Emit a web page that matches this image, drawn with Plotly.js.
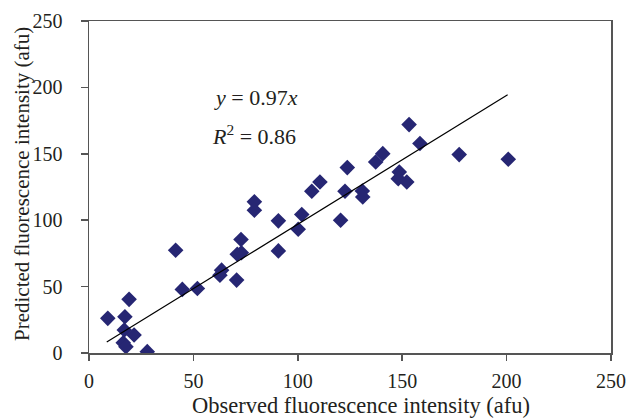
<!DOCTYPE html>
<html>
<head>
<meta charset="utf-8">
<script src="https://cdn.plot.ly/plotly-3.0.1.min.js"></script>
<style>html,body{margin:0;padding:0;background:#fff;}#chart{width:626px;height:419px;}</style>
</head>
<body>
<div id="chart"></div>
<script>
const observed = [9.0, 17.2, 19.2, 16.9, 21.6, 16.4, 17.7, 27.9, 41.5, 44.7, 51.9, 62.7, 63.5, 70.7, 71.0, 73.0, 72.8, 79.2, 79.2, 90.7, 90.7, 100.2, 101.9, 106.7, 110.6, 120.5, 122.6, 123.7, 130.9, 131.1, 137.3, 140.7, 148.6, 148.1, 152.2, 153.3, 158.5, 177.3, 200.8];
const predicted = [26.1, 27.3, 40.4, 17.3, 13.5, 7.7, 4.7, 1.0, 77.4, 47.9, 48.6, 58.6, 62.4, 54.9, 74.4, 75.5, 85.5, 113.8, 107.5, 99.5, 76.9, 93.2, 104.3, 121.8, 128.8, 100.0, 121.8, 139.6, 122.0, 117.5, 143.8, 150.1, 136.3, 131.3, 128.8, 172.0, 157.7, 149.4, 145.9];
const fitX = [8.5, 200.5];
const slope = 0.97;
const fitY = fitX.map(v => slope * v);
const xTicks = [0, 50, 100, 150, 200, 250];
const yTicks = [0, 50, 100, 150, 200, 250];

const font = "Liberation Serif, Times New Roman, serif";
const axisCol = "#555555";
const txtCol = "#231f20";

const traces = [
  {x: observed, y: predicted, type: "scatter", mode: "markers",
   marker: {symbol: "diamond", size: 12, color: "#262673"}, hoverinfo: "x+y"},
  {x: fitX, y: fitY, type: "scatter", mode: "lines",
   line: {color: "#000000", width: 1.2}, hoverinfo: "none"}
];

const layout = {
  width: 626, height: 419,
  margin: {l: 89, r: 15, t: 21, b: 66},
  paper_bgcolor: "#ffffff", plot_bgcolor: "#ffffff",
  showlegend: false,
  font: {family: font, size: 20, color: txtCol},
  xaxis: {
    range: [0, 250], tickvals: xTicks, ticktext: xTicks.map(String),
    showgrid: false, zeroline: false,
    showline: true, linecolor: axisCol, linewidth: 1.5, mirror: true,
    ticks: "outside", ticklen: 6, tickcolor: axisCol, tickwidth: 1.5,
    ticklabelstandoff: 3,
    tickfont: {family: font, size: 20, color: txtCol}
  },
  yaxis: {
    range: [0, 250], tickvals: yTicks, ticktext: yTicks.map(String),
    showgrid: false, zeroline: false,
    showline: true, linecolor: axisCol, linewidth: 1.5, mirror: true,
    ticks: "outside", ticklen: 7, tickcolor: axisCol, tickwidth: 1.5,
    ticklabelstandoff: 14,
    tickfont: {family: font, size: 20, color: txtCol}
  },
  annotations: [
    {x: 0, y: 0.509, xref: "paper", yref: "paper", xshift: -67, xanchor: "center", yanchor: "middle",
     textangle: -90, text: "Predicted fluorescence intensity (afu)", showarrow: false,
     font: {family: font, size: 21, color: txtCol}},
    {x: 0.521, y: 0, xref: "paper", yref: "paper", yshift: -38, xanchor: "center", yanchor: "top",
     text: "Observed fluorescence intensity (afu)", showarrow: false,
     font: {family: font, size: 22.5, color: txtCol}},
    {x: 80, y: 192.5, xref: "x", yref: "y", text: "<i>y</i> = 0.97<i>x</i>", showarrow: false,
     font: {family: font, size: 22, color: txtCol}},
    {x: 79, y: 164.5, xref: "x", yref: "y", text: "<i>R</i><sup>2</sup> = 0.86", showarrow: false,
     font: {family: font, size: 22, color: txtCol}}
  ]
};

Plotly.newPlot("chart", traces, layout, {displayModeBar: false, staticPlot: true});
</script>
</body>
</html>
